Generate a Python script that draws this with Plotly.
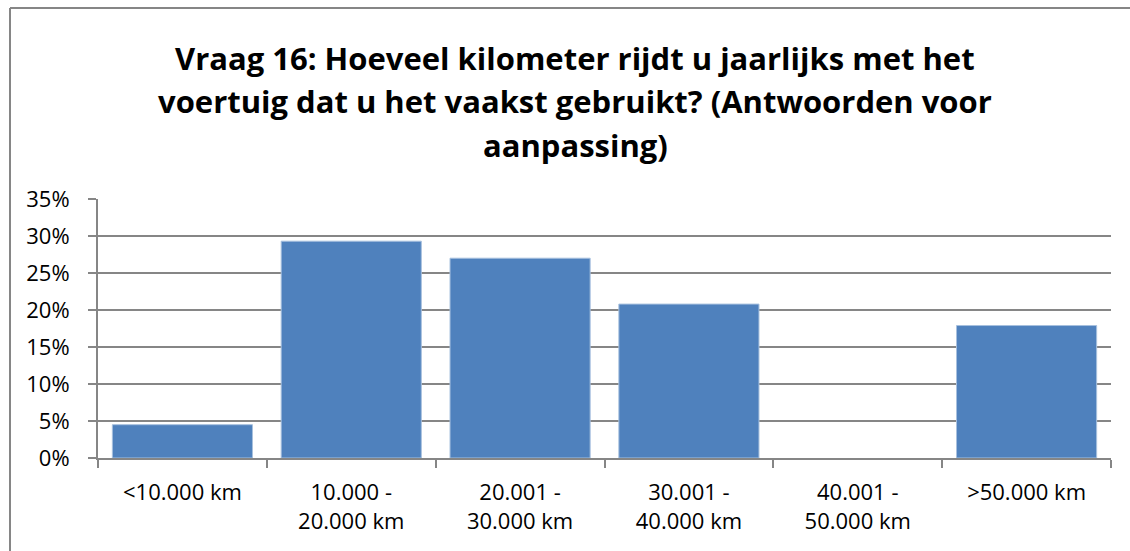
import plotly.graph_objects as go

categories = ["<10.000 km", "10.000 -<br>20.000 km", "20.001 -<br>30.000 km",
              "30.001 -<br>40.000 km", "40.001 -<br>50.000 km", ">50.000 km"]
values = [0.045, 0.293, 0.270, 0.208, 0.0, 0.179]
title_lines = ["Vraag 16: Hoeveel kilometer rijdt u jaarlijks met het",
               "voertuig dat u het vaakst gebruikt? (Antwoorden voor",
               "aanpassing)"]

W, H = 1130, 551
L, R, T, B = 98, 19, 199, 93
pw, ph = W - L - R, H - T - B

def px_x(x):
    return (x - L) / pw

def px_y(y):
    return (H - B - y) / ph

FONT = "Open Sans"
GRAY = "#868686"

fig = go.Figure(go.Bar(
    x=categories, y=values,
    marker=dict(color="#4F81BD",
                line=dict(color="#A7C0DE", width=[1 if v > 0 else 0 for v in values])),
    hoverinfo="skip",
))

annotations = []
for line, yc in zip(title_lines, [57.5, 101, 144.5]):
    annotations.append(dict(
        text=f"<b>{line}</b>", x=px_x(575), y=px_y(yc), xref="paper", yref="paper",
        xanchor="center", yanchor="middle", showarrow=False,
        font=dict(family=FONT, size=31, color="#000000"),
    ))

border = [
    dict(type="line", xref="paper", yref="paper",
         x0=px_x(10), x1=px_x(1135), y0=px_y(8), y1=px_y(8),
         line=dict(color=GRAY, width=2), layer="below"),
    dict(type="line", xref="paper", yref="paper",
         x0=px_x(10), x1=px_x(10), y0=px_y(8), y1=px_y(560),
         line=dict(color=GRAY, width=2), layer="below"),
]

fig.update_layout(
    width=W, height=H,
    margin=dict(l=L, r=R, t=T, b=B),
    paper_bgcolor="white", plot_bgcolor="white",
    bargap=0.17,
    showlegend=False,
    annotations=annotations,
    font=dict(family=FONT, size=22, color="#000000"),
    shapes=border,
    xaxis=dict(
        showgrid=False, showline=True, linecolor=GRAY, linewidth=2,
        ticks="outside", ticklen=8, tickcolor=GRAY, tickwidth=2,
        tickson="boundaries", ticklabelstandoff=14,
        tickfont=dict(family=FONT, size=22, color="#000000"),
    ),
    yaxis=dict(
        range=[0, 0.35], dtick=0.05, tickformat=".0%",
        showgrid=True, gridcolor=GRAY, gridwidth=2,
        showline=True, linecolor=GRAY, linewidth=2,
        ticks="outside", ticklen=8, tickcolor=GRAY, tickwidth=2,
        ticklabelstandoff=14, zeroline=False,
        tickfont=dict(family=FONT, size=22, color="#000000"),
    ),
)

fig.write_html("out.html",
               config={"displayModeBar": False, "staticPlot": True},
               post_script="document.documentElement.style.overflow='hidden';document.body.style.margin='0';document.body.style.overflow='hidden';")
